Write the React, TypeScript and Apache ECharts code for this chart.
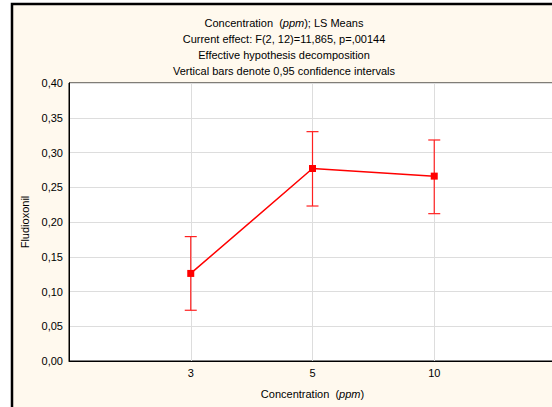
import React, { useEffect, useRef } from "react";
import * as echarts from "echarts";

const categories = ["", "3", "5", "10", ""];
const groups = ["3", "5", "10"];
const means = [0.126, 0.277, 0.266];
const lower = [0.073, 0.223, 0.212];
const upper = [0.179, 0.33, 0.318];
const yTicks = { min: 0, max: 0.4, interval: 0.05 };

const FONT = "'Liberation Sans', Arial, sans-serif";

export default function App() {
  const ref = useRef<HTMLDivElement>(null);
  useEffect(() => {
    const chart = echarts.init(ref.current!, null, { renderer: "svg" });
    const lineData = categories.map((c) => {
      const i = groups.indexOf(c);
      return c && i >= 0 ? means[i] : null;
    });
    const errData = groups.map((g, i) => [categories.indexOf(g), lower[i], upper[i]]);
    const txt = { fontSize: 11, fontWeight: "normal", color: "#000", fontFamily: FONT };
    const option: any = {
      animation: false,
      backgroundColor: "transparent",
      textStyle: { fontFamily: FONT },
      graphic: [
        {
          type: "rect",
          z: -10,
          shape: { x: 12, y: 4, width: 560, height: 420 },
          style: { fill: "#FFF9EE", stroke: "#000", lineWidth: 2.5 },
        },
      ],
      title: [
        {
          text: "Concentration  ({i|ppm}); LS Means",
          left: 279,
          top: 12,
          textAlign: "center",
          textStyle: {
            ...txt,
            rich: { i: { fontStyle: "italic", fontSize: 11, fontFamily: FONT, color: "#000" } },
          },
        },
        { text: "Current effect: F(2, 12)=11,865, p=,00144", left: 279, top: 28, textAlign: "center", textStyle: txt },
        { text: "Effective hypothesis decomposition", left: 279, top: 44, textAlign: "center", textStyle: txt },
        { text: "Vertical bars denote 0,95 confidence intervals", left: 279, top: 60, textAlign: "center", textStyle: txt },
      ],
      grid: {
        left: 69,
        top: 83,
        width: 487,
        height: 278,
        outerBoundsMode: "none",
        containLabel: false,
        show: true,
        backgroundColor: "#fff",
        borderColor: "#000",
        borderWidth: 1,
      },
      xAxis: {
        type: "category",
        data: categories,
        boundaryGap: false,
        axisLine: { show: true, lineStyle: { color: "#000", width: 1 } },
        axisTick: { show: false },
        axisLabel: { color: "#000", fontSize: 11, fontFamily: FONT, margin: 6, interval: 0 },
        splitLine: { show: true, lineStyle: { color: "#dddddd", width: 1 } },
        name: "Concentration  ({i|ppm})",
        nameLocation: "middle",
        nameGap: 27,
        nameTextStyle: {
          color: "#000",
          fontSize: 11,
          fontFamily: FONT,
          rich: { i: { fontStyle: "italic", fontSize: 11, fontFamily: FONT, color: "#000" } },
        },
      },
      yAxis: {
        type: "value",
        min: yTicks.min,
        max: yTicks.max,
        interval: yTicks.interval,
        axisLine: { show: true, lineStyle: { color: "#000", width: 1 } },
        axisTick: { show: false },
        axisLabel: {
          color: "#000",
          fontSize: 11,
          fontFamily: FONT,
          margin: 6,
          formatter: (v: number) => v.toFixed(2).replace(".", ","),
        },
        splitLine: { show: true, lineStyle: { color: "#dddddd", width: 1 } },
        name: "Fludioxonil",
        nameLocation: "middle",
        nameGap: 36,
        nameTextStyle: { color: "#000", fontSize: 11, fontFamily: FONT },
      },
      series: [
        {
          type: "custom",
          z: 3,
          data: errData,
          renderItem: (params: any, api: any) => {
            const x = api.value(0);
            const lo = api.coord([x, api.value(1)]);
            const hi = api.coord([x, api.value(2)]);
            const w = 6;
            const style = { stroke: "#FF2020", lineWidth: 1.2 };
            return {
              type: "group",
              children: [
                { type: "line", shape: { x1: lo[0], y1: lo[1], x2: hi[0], y2: hi[1] }, style },
                { type: "line", shape: { x1: lo[0] - w, y1: lo[1], x2: lo[0] + w, y2: lo[1] }, style },
                { type: "line", shape: { x1: hi[0] - w, y1: hi[1], x2: hi[0] + w, y2: hi[1] }, style },
              ],
            };
          },
        },
        {
          type: "line",
          z: 4,
          data: lineData,
          connectNulls: false,
          symbol: "rect",
          symbolSize: 7,
          itemStyle: { color: "#FF0000" },
          lineStyle: { color: "#FF0000", width: 1.5 },
        },
      ],
    };
    chart.setOption(option);
    return () => chart.dispose();
  }, []);
  return (
    <div
      ref={ref}
      style={{ position: "fixed", left: 0, top: 0, width: 552, height: 407, background: "#fff" }}
    />
  );
}
